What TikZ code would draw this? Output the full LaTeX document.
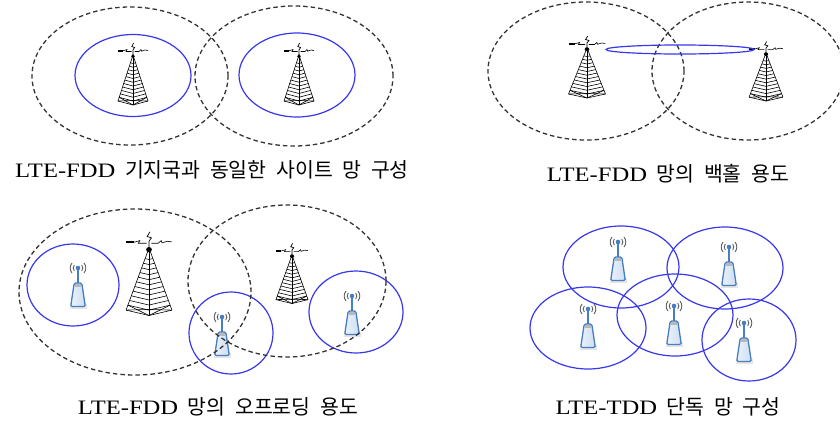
\documentclass[tikz,border=0pt]{standalone}
\usepackage{fontspec}
\setmainfont{Liberation Serif}
\newfontfamily\latfont[FakeStretch=1.2]{Liberation Serif}
\newfontfamily\krfont[WordSpace=2.1]{Noto Sans CJK KR}
\definecolor{ringblue}{RGB}{55,55,238}
\definecolor{iconblue}{RGB}{70,125,195}
\definecolor{iconfill}{RGB}{205,222,242}
\definecolor{wavegray}{RGB}{95,95,95}
\newcommand\capt[2]{{\latfont #1}{\krfont\ #2}}
\begin{document}
\begin{tikzpicture}[x=1pt,y=-1pt,
  cover/.style={draw=black!80, dash pattern=on 4.5pt off 3pt, line width=1.3pt},
  ring/.style={draw=ringblue, line width=1.2pt},
  towerline/.style={draw=black, line width=0.6pt},
  caption/.style={font=\fontsize{20.5}{24}\selectfont, inner sep=0pt, anchor=center},
  pics/tower/.style={code={
    % lattice legs and base
    \draw[towerline] (-15,46) -- (0,0) -- (15,46);
    \draw[towerline] (0,0) -- (0,50);
    \draw[towerline] (-15,46) -- (0,50) -- (15,46);
    % rungs
    \foreach \t in {0.17,0.245,0.32,0.395,0.47,0.545,0.62,0.695,0.77,0.845,0.92}
      \draw[towerline] (-15*\t,46*\t) -- (0,50*\t) -- (15*\t,46*\t);
    % bracing near the foot
    \draw[towerline] (-13.8,42.3) -- (0,50) -- (13.8,42.3);
    \draw[towerline] (-15,46) -- (0,45.5) -- (15,46);
    % top cap
    \fill (0,1.2) circle (1.9);
    % mast with bolt
    \draw[line width=0.7pt] (0,0) -- (0,-5) -- (1.6,-7.5) -- (-1.2,-8.5) -- (0.6,-12);
    % left beam
    \draw[line width=0.6pt] (-1.5,-3.5) -- (-7,-3.5) -- (-6,-5.5) -- (-10,-4.2);
    \fill (-15,-5) rectangle (-10,-3.4);
    % right beam
    \draw[line width=0.6pt] (1.5,-3.5) -- (6,-3.5) -- (8,-5.5) -- (8.5,-3.8) -- (12,-5) -- (15,-4.5);
  }},
  pics/smallcell/.style={code={
    % radio waves
    \draw[wavegray, line width=0.9pt] (0,0) ++(140:4.8) arc (140:220:4.8);
    \draw[wavegray, line width=0.9pt] (0,0) ++(140:7.8) arc (140:220:7.8);
    \draw[wavegray, line width=0.9pt] (0,0) ++(-40:4.8) arc (-40:40:4.8);
    \draw[wavegray, line width=0.9pt] (0,0) ++(-40:7.8) arc (-40:40:7.8);
    % antenna
    \draw[iconblue, line width=1.4pt] (0,0) -- (0,15);
    \fill[iconblue] (0,0) circle (2.3);
    % shadow under the unit
    \fill[black!10] (-8.5,35.5) rectangle (8.5,40.5);
    % body
    \draw[iconblue, line width=1.3pt, left color=iconfill!40!white, right color=iconfill,
          rounded corners=1.5pt] (-3.8,15) -- (-7.3,38.5) -- (7.3,38.5) -- (3.8,15) -- cycle;
    \fill[black!28] (-3.1,15.9) rectangle (3.1,18.6);
  }}
]
\useasboundingbox (0,0) rectangle (840,426);
\clip (0,0) rectangle (840,426);

% ---- same-site network ----
\draw[ring] (133,75.5) ellipse [x radius=58pt, y radius=41pt];
\draw[ring] (297,75) ellipse [x radius=58pt, y radius=42pt];
\pic at (133,55) {tower};
\pic at (299,55) {tower};
\draw[cover] (130,76) ellipse [x radius=98pt, y radius=69pt];
\draw[cover] (294,76) ellipse [x radius=99pt, y radius=70pt];
\node[caption] (c1) at (212,170) {\capt{LTE-FDD}{기지국과 동일한 사이트 망 구성}};

% ---- backhaul ----
\draw[cover] (586,71) ellipse [x radius=98pt, y radius=69pt];
\draw[cover] (748,71) ellipse [x radius=96pt, y radius=69pt];
\pic[xscale=1.23] at (587,48) {tower};
\pic[xscale=1.13, yscale=0.96] at (766,53) {tower};
\draw[ring] (680,49.5) ellipse [x radius=74pt, y radius=4.5pt];
\node[caption] (c2) at (668,174) {\capt{LTE-FDD}{망의 백홀 용도}};

% ---- offloading ----
\pic at (78,268) {smallcell};
\pic at (222,317) {smallcell};
\pic at (352,296) {smallcell};
\draw[ring] (73,285) ellipse [x radius=46pt, y radius=41pt];
\draw[ring] (231,333) ellipse [x radius=42pt, y radius=41pt];
\draw[ring] (356,312) ellipse [x radius=47pt, y radius=41pt];
\pic[xscale=1.53, yscale=1.35] at (149,248) {tower};
\pic[xscale=1.07, yscale=0.97] at (292,255) {tower};
\draw[cover] (135,292) ellipse [x radius=116pt, y radius=83pt];
\draw[cover] (287,281) ellipse [x radius=99pt, y radius=76pt];
\node[caption] (c3) at (218,407) {\capt{LTE-FDD}{망의 오프로딩 용도}};

% ---- standalone TDD ----
\pic at (618,242) {smallcell};
\pic at (729,247) {smallcell};
\pic at (588,309) {smallcell};
\pic at (674,306) {smallcell};
\pic at (744,323) {smallcell};
\draw[ring] (621,267) ellipse [x radius=58pt, y radius=41pt];
\draw[ring] (725,268) ellipse [x radius=58pt, y radius=41pt];
\draw[ring] (588,328) ellipse [x radius=58pt, y radius=41pt];
\draw[ring] (675,315) ellipse [x radius=58pt, y radius=41pt];
\draw[ring] (749,340) ellipse [x radius=47pt, y radius=41pt];
\node[caption] (c4) at (668,407) {\capt{LTE-TDD}{단독 망 구성}};
\end{tikzpicture}
\end{document}
